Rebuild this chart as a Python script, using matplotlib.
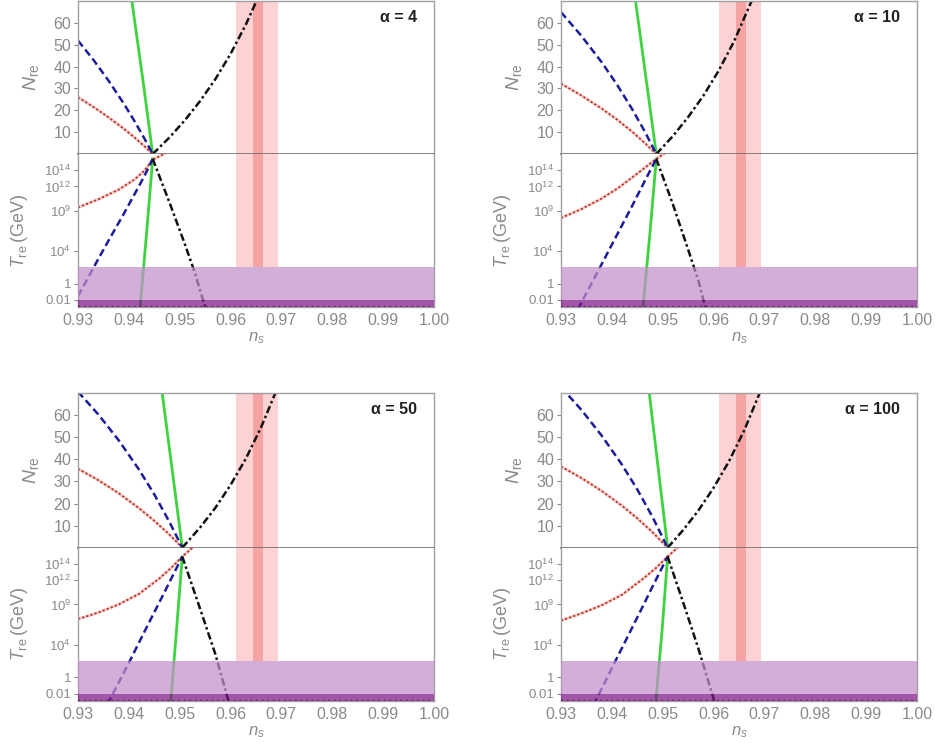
import matplotlib
matplotlib.use("Agg")
import matplotlib.pyplot as plt
import numpy as np

plt.rcParams["font.family"] = ["Liberation Sans", "DejaVu Sans"]
plt.rcParams["mathtext.fontset"] = "custom"
plt.rcParams["mathtext.rm"] = "Liberation Sans"
plt.rcParams["mathtext.it"] = "Liberation Sans:italic"
plt.rcParams["mathtext.bf"] = "Liberation Sans:bold"

# ---- data ----
alphas = [4, 10, 50, 100]

# upper panels: N_re vs n_s
ns_left = [
    [0.930, 0.933, 0.936, 0.939, 0.941, 0.943, 0.9447],
    [0.930, 0.934, 0.938, 0.941, 0.944, 0.9465, 0.94874],
    [0.930, 0.934, 0.938, 0.942, 0.945, 0.948, 0.95051],
    [0.930, 0.934, 0.938, 0.942, 0.945, 0.948, 0.95097],
]
N_blue = [
    [51.9, 43.2, 33.6, 23.1, 15.5, 7.4, 0],
    [64.9, 54.1, 42.0, 31.8, 20.5, 10.2, 0],
    [70.7, 60.4, 48.7, 35.4, 24.2, 11.6, 0],
    [72.8, 62.5, 50.8, 37.6, 26.4, 13.9, 0],
]
N_red = [
    [26.0, 21.6, 16.8, 11.6, 7.8, 3.7, 0],
    [32.2, 26.8, 20.8, 15.8, 10.2, 5.0, 0],
    [35.8, 30.6, 24.7, 17.9, 12.2, 5.9, 0],
    [36.8, 31.6, 25.7, 19.0, 13.3, 7.0, 0],
]
ns_green_up = [
    [0.9406, 0.9427, 0.9447],
    [0.94466, 0.9467, 0.94874],
    [0.94657, 0.94854, 0.95051],
    [0.94736, 0.94917, 0.95097],
]
N_green = [70, 35, 0]
ns_black_up = [
    [0.9447, 0.948, 0.951, 0.954, 0.957, 0.960, 0.963, 0.9651],
    [0.94874, 0.952, 0.955, 0.958, 0.961, 0.964, 0.96748],
    [0.95051, 0.954, 0.957, 0.960, 0.963, 0.966, 0.96879],
    [0.95097, 0.954, 0.957, 0.960, 0.963, 0.966, 0.96905],
]
N_black = [
    [0, 7.6, 15.4, 24.2, 34.2, 45.8, 59.2, 70.0],
    [0, 8.2, 16.9, 26.7, 38.1, 51.4, 70.0],
    [0, 9.1, 18.0, 28.4, 40.3, 54.5, 70.0],
    [0, 7.9, 16.8, 27.1, 39.0, 53.0, 70.0],
]

# lower panels: log10(T_re / GeV) vs n_s
ns_blue_lo = [
    [0.930, 0.933, 0.936, 0.939, 0.941, 0.943, 0.9447],
    [0.9333, 0.937, 0.941, 0.944, 0.9465, 0.94874],
    [0.9358, 0.940, 0.944, 0.947, 0.95051],
    [0.9364, 0.941, 0.945, 0.948, 0.95097],
]
logT_blue = [
    [-1.57, 1.9, 5.3, 8.6, 10.9, 13.2, 15.4],
    [-3.2, 1.2, 6.0, 9.6, 12.7, 15.4],
    [-3.3, 1.8, 6.8, 10.5, 14.9],
    [-3.4, 2.4, 7.4, 11.2, 14.9],
]
ns_red_lo = [
    [0.930, 0.934, 0.938, 0.941, 0.943, 0.9447, 0.9472],
    [0.930, 0.934, 0.938, 0.941, 0.944, 0.94874, 0.9504],
    [0.930, 0.934, 0.938, 0.942, 0.946, 0.9485, 0.95051, 0.9527],
    [0.930, 0.934, 0.938, 0.942, 0.946, 0.9487, 0.95097, 0.9531],
]
logT_red = [
    [9.4, 10.4, 11.6, 12.8, 13.9, 15.3, 16.1],
    [8.1, 9.2, 10.5, 11.7, 13.1, 15.4, 16.1],
    [7.2, 8.0, 9.0, 10.3, 12.2, 13.6, 14.9, 16.1],
    [7.0, 7.9, 8.9, 10.2, 12.1, 13.5, 14.9, 16.1],
]
ns_green_lo = [
    [0.9447, 0.9435, 0.9422],
    [0.94874, 0.9475, 0.9461],
    [0.95051, 0.9494, 0.9482],
    [0.95097, 0.9499, 0.9486],
]
logT_green = [
    [15.4, 6.3, -3.1],
    [15.4, 6.3, -3.1],
    [14.9, 6.0, -3.2],
    [14.9, 6.0, -3.3],
]
ns_black_lo = [
    [0.9447, 0.948, 0.951, 0.953, 0.955],
    [0.94874, 0.952, 0.955, 0.957, 0.9584],
    [0.95051, 0.954, 0.957, 0.9596],
    [0.95097, 0.954, 0.957, 0.9602],
]
logT_black = [
    [15.4, 10.0, 4.9, 1.3, -2.9],
    [15.4, 9.8, 4.2, 0.4, -3.0],
    [14.9, 8.5, 2.9, -2.9],
    [14.9, 9.3, 3.6, -3.0],
]

# observational bands
ns_planck = (0.9611, 0.9693)
ns_future = (0.9644, 0.9664)
T_ew = 1e2      # GeV
T_bbn = 1e-2    # GeV

x_ticks = [0.93, 0.94, 0.95, 0.96, 0.97, 0.98, 0.99, 1.00]
N_ticks = [10, 20, 30, 40, 50, 60]
T_ticks = [1e-2, 1, 1e4, 1e9, 1e12, 1e14]
T_labels = ["0.01", "1", r"$10^{4}$", r"$10^{9}$", r"$10^{12}$", r"$10^{14}$"]

# ---- styling ----
GRAY = "#8a8a8a"
FRAME = "#a0a0a0"
C_GREEN = "#3dd43d"
C_BLUE = "#1c1c9c"
C_RED = "#b5352a"
C_BLACK = "#111111"
PINK_L = "#fcd2d2"
PINK_D = "#f5a3a3"
PURPLE_L = "#c38fca"
PURPLE_D = "#7e1586"
T_LIM = (10 ** -2.9, 10 ** 16.0)

fig = plt.figure(figsize=(9.35, 7.43), dpi=100)

W = 0.3807
cols = [0.0834, 0.600]
rows = [  # (upper bottom, upper height, lower bottom, lower height)
    (0.7927, 0.2059, 0.5868, 0.2059),
    (0.2629, 0.2078, 0.0565, 0.2064),
]


def style(ax, ysize=11.5):
    for sp in ax.spines.values():
        sp.set_color(FRAME)
        sp.set_linewidth(1.0)
    ax.tick_params(axis="y", direction="out", length=3, width=0.8,
                   color=GRAY, labelcolor=GRAY, labelsize=ysize, pad=2)
    ax.tick_params(axis="x", length=0, labelcolor=GRAY, labelsize=11.5, pad=4)
    ax.set_xlim(0.93, 1.00)
    ax.set_xticks(x_ticks)


def red_line(ax, x, y):
    ax.plot(x, y, color="#f6b9b3", lw=2.2, alpha=0.7, zorder=2,
            solid_capstyle="butt")
    ax.plot(x, y, color=C_RED, lw=1.3, ls=(0, (1.2, 1.2)), zorder=2.1)


for i, a in enumerate(alphas):
    r, c = divmod(i, 2)
    ub, uh, lb, lh = rows[r]
    ax_up = fig.add_axes([cols[c], ub, W, uh])
    ax_lo = fig.add_axes([cols[c], lb, W, lh])

    # ---- upper: N_re ----
    style(ax_up)
    ax_up.set_ylim(0, 70)
    ax_up.set_yticks(N_ticks)
    ax_up.set_xticklabels([])
    ax_up.axvspan(*ns_planck, color=PINK_L, lw=0, zorder=0)
    ax_up.axvspan(*ns_future, color=PINK_D, lw=0, zorder=0.5)
    ax_up.plot(ns_green_up[i], N_green, color=C_GREEN, lw=2.0, zorder=2)
    ax_up.plot(ns_left[i], N_blue[i], color=C_BLUE, lw=1.8,
               ls=(0, (3.0, 1.6)), zorder=2.2)
    red_line(ax_up, ns_left[i], N_red[i])
    ax_up.plot(ns_black_up[i], N_black[i], color=C_BLACK, lw=1.8,
               ls=(0, (3.0, 1.2, 1.0, 1.2)), zorder=2.3)
    ax_up.spines["bottom"].set_color("#6e6e6e")
    ax_up.spines["bottom"].set_linewidth(1.2)
    ax_up.set_ylabel(r"$N_{\rm re}$", color=GRAY, fontsize=14)
    ax_up.yaxis.set_label_coords(-0.105, 0.5)
    ax_up.text(0.952, 0.895, "α = %d" % a, transform=ax_up.transAxes,
               ha="right", va="center", fontsize=11.5, fontweight="bold",
               color="#222222")

    # ---- lower: T_re ----
    style(ax_lo, ysize=9.5)
    ax_lo.set_yscale("log")
    ax_lo.set_ylim(*T_LIM)
    ax_lo.set_yticks(T_ticks)
    ax_lo.set_yticklabels(T_labels)
    ax_lo.yaxis.set_minor_locator(matplotlib.ticker.NullLocator())
    ax_lo.set_xticklabels(["%.2f" % t for t in x_ticks])
    ax_lo.spines["top"].set_visible(False)
    ax_lo.fill_betweenx([T_ew, T_LIM[1]], ns_planck[0], ns_planck[1],
                        color=PINK_L, lw=0, zorder=0)
    ax_lo.fill_betweenx([T_ew, T_LIM[1]], ns_future[0], ns_future[1],
                        color=PINK_D, lw=0, zorder=0.5)
    ax_lo.plot(ns_green_lo[i], 10.0 ** np.array(logT_green[i]),
               color=C_GREEN, lw=2.0, zorder=2)
    ax_lo.plot(ns_blue_lo[i], 10.0 ** np.array(logT_blue[i]),
               color=C_BLUE, lw=1.8, ls=(0, (3.0, 1.6)), zorder=2.2)
    red_line(ax_lo, ns_red_lo[i], 10.0 ** np.array(logT_red[i]))
    ax_lo.plot(ns_black_lo[i], 10.0 ** np.array(logT_black[i]),
               color=C_BLACK, lw=1.8, ls=(0, (3.0, 1.2, 1.0, 1.2)), zorder=2.3)
    # excluded reheating temperatures
    ax_lo.fill_between([0.93, 1.00], T_bbn, T_ew, color=PURPLE_L,
                       alpha=0.72, lw=0, zorder=3)
    ax_lo.fill_between([0.93, 1.00], T_LIM[0], T_bbn, color=PURPLE_D,
                       alpha=0.72, lw=0, zorder=3)
    ax_lo.axhline(T_LIM[0] * 1.25, color="#5a1a5e", lw=1.0,
                  ls=(0, (1, 3)), zorder=3.5)
    ax_lo.set_ylabel(r"$T_{\rm re}\,$(GeV)", color=GRAY, fontsize=13)
    ax_lo.yaxis.set_label_coords(-0.135, 0.5)
    ax_lo.set_xlabel(r"$n_s$", color=GRAY, fontsize=12, labelpad=2)

fig.savefig("out.png", dpi=100)
